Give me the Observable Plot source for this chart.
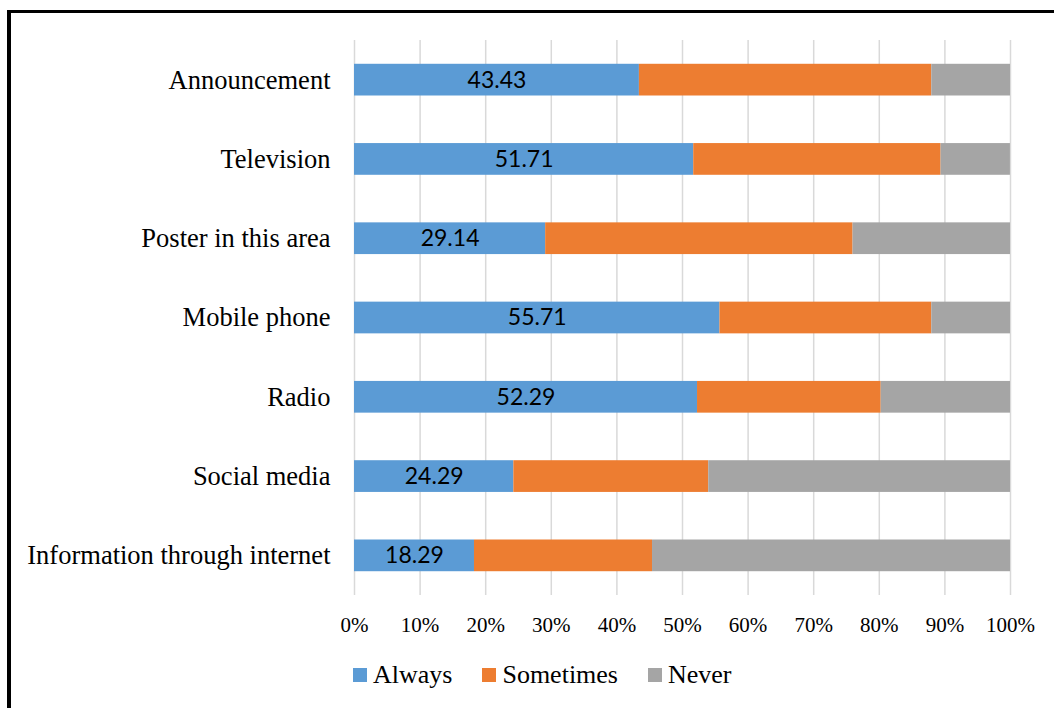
<!DOCTYPE html>
<html>
<head>
<meta charset="utf-8">
<script src="https://cdn.jsdelivr.net/npm/d3@7"></script>
<script src="https://cdn.jsdelivr.net/npm/@observablehq/plot@0.6"></script>
<style>
  html, body { margin: 0; padding: 0; background: #fff; overflow: hidden; width: 1054px; height: 708px; }
  #wrap { position: relative; width: 1054px; height: 708px; }
  #chart { position: absolute; left: 0; top: 0; }
  #frame { position: absolute; left: 7px; top: 10px; width: 1100px; height: 800px;
           border-left: 4px solid #000; border-top: 3px solid #000; pointer-events: none; }
  #legend { position: absolute; left: 353px; top: 660px; display: flex; align-items: center;
            font-family: "Liberation Serif", "Times New Roman", serif; font-size: 26px; color: #000; }
  .item { display: flex; align-items: center; margin-right: 30px; }
  .sw { width: 14px; height: 14px; margin-right: 6px; }
</style>
</head>
<body>
<div id="wrap">
  <div id="chart"></div>
  <div id="legend"></div>
  <div id="frame"></div>
</div>
<script>
const categories = ["Announcement", "Television", "Poster in this area", "Mobile phone", "Radio", "Social media", "Information through internet"];
const seriesNames = ["Always", "Sometimes", "Never"];
const seriesColors = ["#5B9BD5", "#ED7D31", "#A5A5A5"];
const always    = [43.43, 51.71, 29.14, 55.71, 52.29, 24.29, 18.29];
const sometimes = [44.57, 37.71, 46.86, 32.29, 28.00, 29.71, 27.14];
const never     = [12.00, 10.57, 24.00, 12.00, 19.71, 46.00, 54.57];
const xTicks = [0, 10, 20, 30, 40, 50, 60, 70, 80, 90, 100];

const seriesValues = [always, sometimes, never];
const rows = [];
categories.forEach((c, i) => {
  seriesNames.forEach((s, j) => rows.push({category: c, series: s, value: seriesValues[j][i]}));
});
const alwaysRows = rows.filter(d => d.series === "Always");

const plot = Plot.plot({
  width: 1054,
  height: 650,
  marginTop: 40,
  marginBottom: 55,
  marginLeft: 354,
  marginRight: 44,
  x: { domain: [0, 100], ticks: xTicks, tickFormat: d => d + "%", label: null },
  y: { domain: categories, paddingInner: 0.6, paddingOuter: 0.3, round: false, label: null },
  color: { domain: seriesNames, range: seriesColors },
  style: { fontFamily: "'Liberation Serif', 'Times New Roman', serif", color: "#000", background: "transparent" },
  marks: [
    Plot.ruleX(xTicks, { stroke: "#d9d9d9", strokeWidth: 1.5 }),
    Plot.barX(rows, Plot.stackX({ x: "value", y: "category", fill: "series", order: seriesNames })),
    Plot.textX(alwaysRows, Plot.stackX({ x: "value", y: "category", text: d => d.value.toFixed(2),
      fontFamily: "Lato, 'Open Sans', sans-serif", fontSize: 23, fill: "#000" })),
    Plot.axisX({ ticks: xTicks, tickFormat: d => d + "%", tickSize: 0, tickPadding: 22, fontSize: 21, label: null }),
    Plot.axisY({ tickSize: 0, tickPadding: 24, fontSize: 26.5, label: null })
  ]
});
document.getElementById("chart").appendChild(plot);

const legend = document.getElementById("legend");
seriesNames.forEach((s, i) => {
  const item = document.createElement("div");
  item.className = "item";
  const sw = document.createElement("div");
  sw.className = "sw";
  sw.style.background = seriesColors[i];
  const t = document.createElement("span");
  t.textContent = s;
  item.appendChild(sw);
  item.appendChild(t);
  legend.appendChild(item);
});
</script>
</body>
</html>
